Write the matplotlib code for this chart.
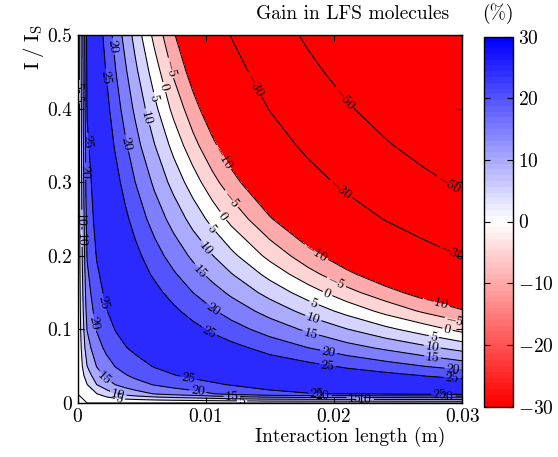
import numpy as np
import matplotlib
matplotlib.use("Agg")
import matplotlib.pyplot as plt
from matplotlib.colors import Normalize
from matplotlib.cm import ScalarMappable

plt.rcParams['font.family'] = 'serif'
plt.rcParams['font.serif'] = ['cmr10', 'DejaVu Serif']
plt.rcParams['mathtext.fontset'] = 'cm'
plt.rcParams['axes.unicode_minus'] = False
plt.rcParams['contour.negative_linestyle'] = 'solid'

# ---- data ----
interaction_length = [0, 0.00075, 0.0015, 0.00225, 0.003, 0.00375, 0.0045, 0.006,
                      0.0075, 0.009, 0.0105, 0.012, 0.015, 0.018, 0.021, 0.024, 0.027, 0.03]
intensity_ratio = [0, 0.0125, 0.025, 0.0375, 0.05, 0.075, 0.1, 0.125, 0.15, 0.175,
                   0.2, 0.25, 0.3, 0.35, 0.4, 0.45, 0.5]
gain_pct = [
    [0]*18,
    [0, 1.5, 4.9, 7.5, 10.0, 11.7, 13.0, 15.2, 16.8, 18.1, 19.8, 21.5, 23.8, 24.8, 25.2, 25.6, 26.1, 26.7],
    [0, 4.9, 10.0, 13.0, 15.2, 16.8, 18.1, 20.3, 21.9, 23.2, 24.3, 25.3, 26.7, 27.4, 28.0, 28.3, 28.2, 27.9],
    [0, 7.5, 13.0, 16.0, 18.1, 19.7, 21.1, 23.2, 24.8, 26.0, 26.9, 27.4, 28.2, 28.2, 27.6, 26.4, 24.8, 23.3],
    [0, 10.0, 15.2, 18.1, 20.3, 21.9, 23.2, 25.3, 26.7, 27.4, 28.0, 28.3, 27.9, 26.4, 24.3, 22.2, 20.0, 17.8],
    [0, 13.0, 18.1, 21.1, 23.2, 24.8, 26.0, 27.4, 28.2, 28.2, 27.6, 26.4, 23.3, 20.0, 16.9, 14.1, 11.2, 8.2],
    [0, 15.2, 20.3, 23.2, 25.3, 26.7, 27.4, 28.3, 27.9, 26.4, 24.3, 22.2, 17.8, 14.1, 10.2, 6.3, 2.5, -1.5],
    [0, 16.8, 21.9, 24.8, 26.7, 27.6, 28.2, 27.9, 25.9, 23.3, 20.6, 17.8, 13.2, 8.2, 3.4, -1.5, -5.8, -9.5],
    [0, 18.1, 23.2, 26.0, 27.4, 28.2, 28.2, 26.4, 23.3, 20.0, 16.9, 14.1, 8.2, 2.5, -3.3, -8.0, -12.3, -16.5],
    [0, 19.2, 24.3, 26.9, 28.0, 28.2, 27.6, 24.3, 20.6, 16.9, 13.6, 10.2, 3.4, -3.3, -8.8, -13.7, -18.6, -23.5],
    [0, 20.3, 25.3, 27.4, 28.3, 27.9, 26.4, 22.2, 17.8, 14.1, 10.2, 6.3, -1.5, -8.0, -13.7, -19.3, -24.9, -30.5],
    [0, 21.9, 26.7, 28.2, 27.9, 25.9, 23.3, 17.8, 13.2, 8.2, 3.4, -1.5, -9.5, -16.5, -23.5, -30.5, -36.5, -42.0],
    [0, 23.2, 27.4, 28.2, 26.4, 23.3, 20.0, 14.1, 8.2, 2.5, -3.3, -8.0, -16.5, -24.9, -33.0, -39.8, -46.3, -52.6],
    [0, 24.3, 28.0, 27.6, 24.3, 20.6, 16.9, 10.2, 3.4, -3.3, -8.8, -13.7, -23.5, -33.0, -40.9, -48.5, -55.5, -61.8],
    [0, 25.3, 28.3, 26.4, 22.2, 17.8, 14.1, 6.3, -1.5, -8.0, -13.7, -19.3, -30.5, -39.8, -48.5, -56.4, -63.4, -70.0],
    [0, 26.0, 28.2, 24.8, 20.0, 15.6, 11.2, 2.5, -5.8, -12.3, -18.6, -24.9, -36.5, -46.3, -55.5, -63.4, -70.7, -77.0],
    [0, 26.7, 27.9, 23.3, 17.8, 13.2, 8.2, -1.5, -9.5, -16.5, -23.5, -30.5, -42.0, -52.6, -61.8, -70.0, -77.0, -84.0],
]
line_levels = [-50, -30, -10, -5, 0, 5, 10, 15, 20, 25]
fill_levels = [-100, -50, -30, -10, -5, -1e-6, 5, 10, 15, 20, 25, 40]
band_values = [-100, -50, -30, -10, -5, 0, 5, 10, 15, 20, 25]
x_ticks = [0, 0.01, 0.02, 0.03]
x_ticklabels = ['0', '0.01', '0.02', '0.03']
y_ticks = [0, 0.1, 0.2, 0.3, 0.4, 0.5]
y_ticklabels = ['0', '0.1', '0.2', '0.3', '0.4', '0.5']
cbar_ticks = [-30, -20, -10, 0, 10, 20, 30]

# contour label anchor points (data coordinates)
label_points = [
    (0.00253, 0.484), (0.00175, 0.442), (0.00721, 0.455), (0.00651, 0.428),
    (0.00565, 0.414), (0.00503, 0.387), (0.00433, 0.355), (0.01345, 0.429),
    (0.01127, 0.333), (0.02062, 0.412), (0.0002, 0.432), (0.0002, 0.414),
    (0.0008, 0.355), (0.0007, 0.315), (0.00035, 0.251), (0.00027, 0.224),
    (0.0021, 0.137), (0.00152, 0.110), (0.00238, 0.0394), (0.0032, 0.016),
    (0.00331, 0.0054), (0.01189, 0.276), (0.01111, 0.251), (0.01033, 0.235),
    (0.00978, 0.208), (0.00916, 0.174), (0.02023, 0.285), (0.01836, 0.198),
    (0.02015, 0.163), (0.01945, 0.147), (0.01828, 0.129), (0.01828, 0.110),
    (0.01813, 0.0924), (0.01953, 0.0652), (0.01945, 0.0476), (0.01033, 0.122),
    (0.0101, 0.0924), (0.00862, 0.0312), (0.0094, 0.0177), (0.01205, 0.0082),
    (0.01283, 0.0041), (0.01867, 0.0149), (0.01914, 0.0109), (0.02164, 0.0082),
    (0.02242, 0.0054), (0.02826, 0.0149), (0.02881, 0.0109), (0.0288, 0.293),
    (0.02904, 0.197), (0.02787, 0.130), (0.02943, 0.113), (0.0288, 0.0965),
    (0.02772, 0.0856), (0.02764, 0.0747), (0.02764, 0.0584), (0.02928, 0.0448),
    (0.0292, 0.0312),
]

X, Y = np.meshgrid(np.array(interaction_length), np.array(intensity_ratio))
Z = np.array(gain_pct)

cmap = plt.get_cmap('bwr_r', 64)
norm = Normalize(vmin=-30, vmax=30)
band_colors = [plt.get_cmap('bwr_r')(norm(max(min(v, 30), -30))) for v in band_values]

fig = plt.figure(figsize=(5.58, 4.57), dpi=100)
W, H = 558, 457
ax = fig.add_axes([77.5 / W, 1 - 403 / H, 384.8 / W, 368 / H])

ax.contourf(X, Y, Z, levels=fill_levels, colors=band_colors)
cs = ax.contour(X, Y, Z, levels=line_levels, colors='black', linewidths=0.75,
                linestyles='solid')

def fmt(v):
    return r'$%g$' % v

ax.clabel(cs, line_levels, manual=label_points, fmt=fmt, fontsize=10,
          inline=True, inline_spacing=1)

ax.set_xlim(0, 0.03)
ax.set_ylim(0, 0.5)
ax.set_xticks(x_ticks)
ax.set_xticklabels(x_ticklabels)
ax.set_yticks(y_ticks)
ax.set_yticklabels(y_ticklabels)
ax.tick_params(direction='in', top=True, right=True, length=4, width=0.8,
               labelsize=14, pad=4)
for s in ax.spines.values():
    s.set_linewidth(1.0)

fig.text(33 / W, 1 - 24 / H, r'$\mathrm{I\;/\;I_S}$', rotation=90, ha='center', va='top', fontsize=15)
fig.text(350 / W, 1 - 437 / H, 'Interaction length (m)', ha='center', va='center', fontsize=14)
fig.text(353 / W, 1 - 14 / H, 'Gain in LFS molecules', ha='center', va='center', fontsize=14)
fig.text(498 / W, 1 - 14 / H, '(%)', ha='center', va='center', fontsize=14)

cax = fig.add_axes([484 / W, 1 - 406.5 / H, 29 / W, 370 / H])
sm = ScalarMappable(norm=norm, cmap=cmap)
cb = fig.colorbar(sm, cax=cax, ticks=cbar_ticks)
cb.ax.set_yticklabels([r'$%g$' % t for t in cbar_ticks])
cax.tick_params(direction='in', left=True, right=True, length=4, width=0.8, labelsize=14)
cb.outline.set_linewidth(1.0)

fig.savefig('out.png', dpi=100)
